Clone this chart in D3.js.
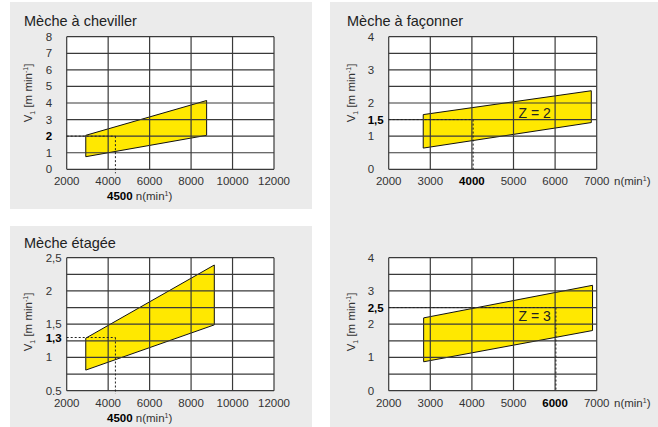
<!DOCTYPE html>
<html><head><meta charset="utf-8">
<script src="https://cdn.jsdelivr.net/npm/d3@7"></script>
<style>
body{margin:0;background:#fff;}
svg{display:block;font-family:"Liberation Sans",Arial,sans-serif;}
</style></head>
<body><svg id="c" width="658" height="427"></svg>
<script>
// ---- data ----
const titles = ["Mèche à cheviller", "Mèche à façonner", "Mèche étagée", ""];

const cheN = [2920, 8750, 8750, 2920];
const cheV = [2.05, 4.15, 2.05, 0.76];
const facN = [2830, 6870, 6870, 2830];
const facV = [1.65, 2.37, 1.41, 0.64];
const etaN = [2920, 9120, 9120, 2920];
const etaV = [1.29, 2.39, 1.49, 0.81];
const fa3N = [2840, 6900, 6900, 2840];
const fa3V = [2.19, 3.17, 1.81, 0.87];

const cheRef = [4350, 2];
const facRef = [4030, 1.5];
const etaRef = [4350, 1.3];
const fa3Ref = [6020, 2.5];

const xTicksWide = [2000, 4000, 6000, 8000, 10000, 12000];
const xTicksNarrow = [2000, 3000, 4000, 5000, 6000, 7000];

const cheYTicks = [0, 1, 2, 3, 4, 5, 6, 7, 8];
const cheYLabels = ["0", "1", "2", "3", "4", "5", "6", "7", "8"];
const facYTicks = [0, 1, 1.5, 2, 3, 4];
const facYLabels = ["0", "1", "1,5", "2", "3", "4"];
const etaYTicks = [0.5, 1, 1.3, 1.5, 2, 2.5];
const etaYLabels = ["0.5", "1", "1,3", "1,5", "2", "2,5"];
const fa3YTicks = [0, 1, 2, 2.5, 3, 4];
const fa3YLabels = ["0", "1", "2", "2,5", "3", "4"];

const zLabels = ["", "Z = 2", "", "Z = 3"];

// ---- layout ----
const svg = d3.select("#c");
const boxes = [[10, 2, 302, 207], [10, 226, 302, 201], [330, 2, 328, 425]];
boxes.forEach(b => svg.append("rect").attr("x", b[0]).attr("y", b[1]).attr("width", b[2]).attr("height", b[3]).attr("fill", "#ebebeb"));

const panels = [
  {title: titles[0], tx: 24, ty: 26, n: cheN, v: cheV, ref: cheRef, xd: [2000, 12000], xt: xTicksWide, yd: [0, 8], yt: cheYTicks, yl: cheYLabels, bold: 2, boldX: null,
   l: 66.7, r: 274, t: 36.7, b: 169.3, ytx: 28, yty: 93, wide: true, zl: zLabels[0], vExt: 4},
  {title: titles[1], tx: 347, ty: 26, n: facN, v: facV, ref: facRef, xd: [2000, 7000], xt: xTicksNarrow, yd: [0, 4], yt: facYTicks, yl: facYLabels, bold: 1.5, boldX: 4000,
   l: 388.7, r: 596.7, t: 36.7, b: 169.3, ytx: 351, yty: 93, wide: false, zl: zLabels[1], zx: 5510, zy: 1.71, vExt: 0},
  {title: titles[2], tx: 24, ty: 248, n: etaN, v: etaV, ref: etaRef, xd: [2000, 12000], xt: xTicksWide, yd: [0.5, 2.5], yt: etaYTicks, yl: etaYLabels, bold: 1.3, boldX: null,
   l: 66.7, r: 274, t: 257.7, b: 390.7, ytx: 28, yty: 322, wide: true, zl: zLabels[2], vExt: 3},
  {title: titles[3], tx: 347, ty: 248, n: fa3N, v: fa3V, ref: fa3Ref, xd: [2000, 7000], xt: xTicksNarrow, yd: [0, 4], yt: fa3YTicks, yl: fa3YLabels, bold: 2.5, boldX: 6000,
   l: 388.7, r: 596.7, t: 257.7, b: 390.7, ytx: 351, yty: 322, wide: false, zl: zLabels[3], zx: 5510, zy: 2.23, vExt: 0}
];

panels.forEach(p => {
  const g = svg.append("g");
  const x = d3.scaleLinear().domain(p.xd).range([p.l, p.r]);
  const y = d3.scaleLinear().domain(p.yd).range([p.b, p.t]);

  if (p.title) g.append("text").attr("x", p.tx).attr("y", p.ty).attr("font-size", 14.5).attr("fill", "#222").text(p.title);

  g.append("rect").attr("x", p.l).attr("y", p.t).attr("width", p.r - p.l).attr("height", p.b - p.t).attr("fill", "#fff");

  // polygon
  const pts = p.n.map((nv, i) => [x(nv), y(p.v[i])]);
  g.append("path").attr("d", d3.line()(pts) + "Z").attr("fill", "#ffe800").attr("stroke", "#111").attr("stroke-width", 1);

  // grid
  const gridY = d3.range(9).map(i => p.yd[0] + i * (p.yd[1] - p.yd[0]) / 8);
  gridY.forEach(v => g.append("line").attr("x1", p.l).attr("x2", p.r).attr("y1", y(v)).attr("y2", y(v)).attr("stroke", "#3a3a3a").attr("stroke-width", 1.2));
  p.xt.forEach(v => g.append("line").attr("y1", p.t).attr("y2", p.b).attr("x1", x(v)).attr("x2", x(v)).attr("stroke", "#3a3a3a").attr("stroke-width", 1.2));

  // reference dashes
  g.append("line").attr("x1", p.l).attr("x2", x(p.ref[0])).attr("y1", y(p.ref[1])).attr("y2", y(p.ref[1]))
    .attr("stroke", "#222").attr("stroke-width", 1).attr("stroke-dasharray", "2,2");
  g.append("line").attr("x1", x(p.ref[0])).attr("x2", x(p.ref[0])).attr("y1", y(p.ref[1])).attr("y2", p.b + p.vExt)
    .attr("stroke", "#222").attr("stroke-width", 1).attr("stroke-dasharray", "2,2");

  // y tick labels
  p.yt.forEach((v, i) => {
    const isB = v === p.bold;
    g.append("text").attr("x", p.l - 21).attr("y", y(v)).attr("dy", "0.35em")
      .attr("font-size", 11.5).attr("font-weight", isB ? "bold" : "normal").attr("fill", isB ? "#000" : "#333").text(p.yl[i]);
  });

  // x tick labels
  p.xt.forEach(v => {
    const isB = v === p.boldX;
    g.append("text").attr("x", x(v)).attr("y", p.b + 16).attr("text-anchor", "middle")
      .attr("font-size", 11.5).attr("font-weight", isB ? "bold" : "normal").attr("fill", isB ? "#000" : "#333").text(d3.format("d")(v));
  });

  // x title
  if (p.wide) {
    const t = g.append("text").attr("x", 107).attr("y", p.b + 31).attr("font-size", 11.5).attr("fill", "#333");
    t.append("tspan").attr("font-weight", "bold").attr("fill", "#000").text(d3.format("d")(4500));
    t.append("tspan").text(" n(min");
    t.append("tspan").attr("font-size", 7).attr("dy", -4).text("1");
    t.append("tspan").attr("dy", 4).text(")");
  } else {
    const t = g.append("text").attr("x", 614).attr("y", p.b + 16).attr("font-size", 11.5).attr("fill", "#333");
    t.append("tspan").text("n(min");
    t.append("tspan").attr("font-size", 7).attr("dy", -4).text("1");
    t.append("tspan").attr("dy", 4).text(")");
  }

  // y title
  const yt = g.append("text").attr("transform", `translate(${p.ytx + 4},${p.yty}) rotate(-90)`)
    .attr("text-anchor", "middle").attr("font-size", 11.5).attr("fill", "#333");
  yt.append("tspan").text("V");
  yt.append("tspan").attr("font-size", 7).attr("dy", 3).text("1");
  yt.append("tspan").attr("dy", -3).text(" [m min");
  yt.append("tspan").attr("font-size", 7).attr("dy", -4).text("-1");
  yt.append("tspan").attr("dy", 4).text("]");

  if (p.zl) {
    g.append("text").attr("x", x(p.zx)).attr("y", y(p.zy)).attr("dy", "0.35em").attr("text-anchor", "middle")
      .attr("font-size", 14).attr("fill", "#222").text(p.zl);
  }
});
</script></body></html>
